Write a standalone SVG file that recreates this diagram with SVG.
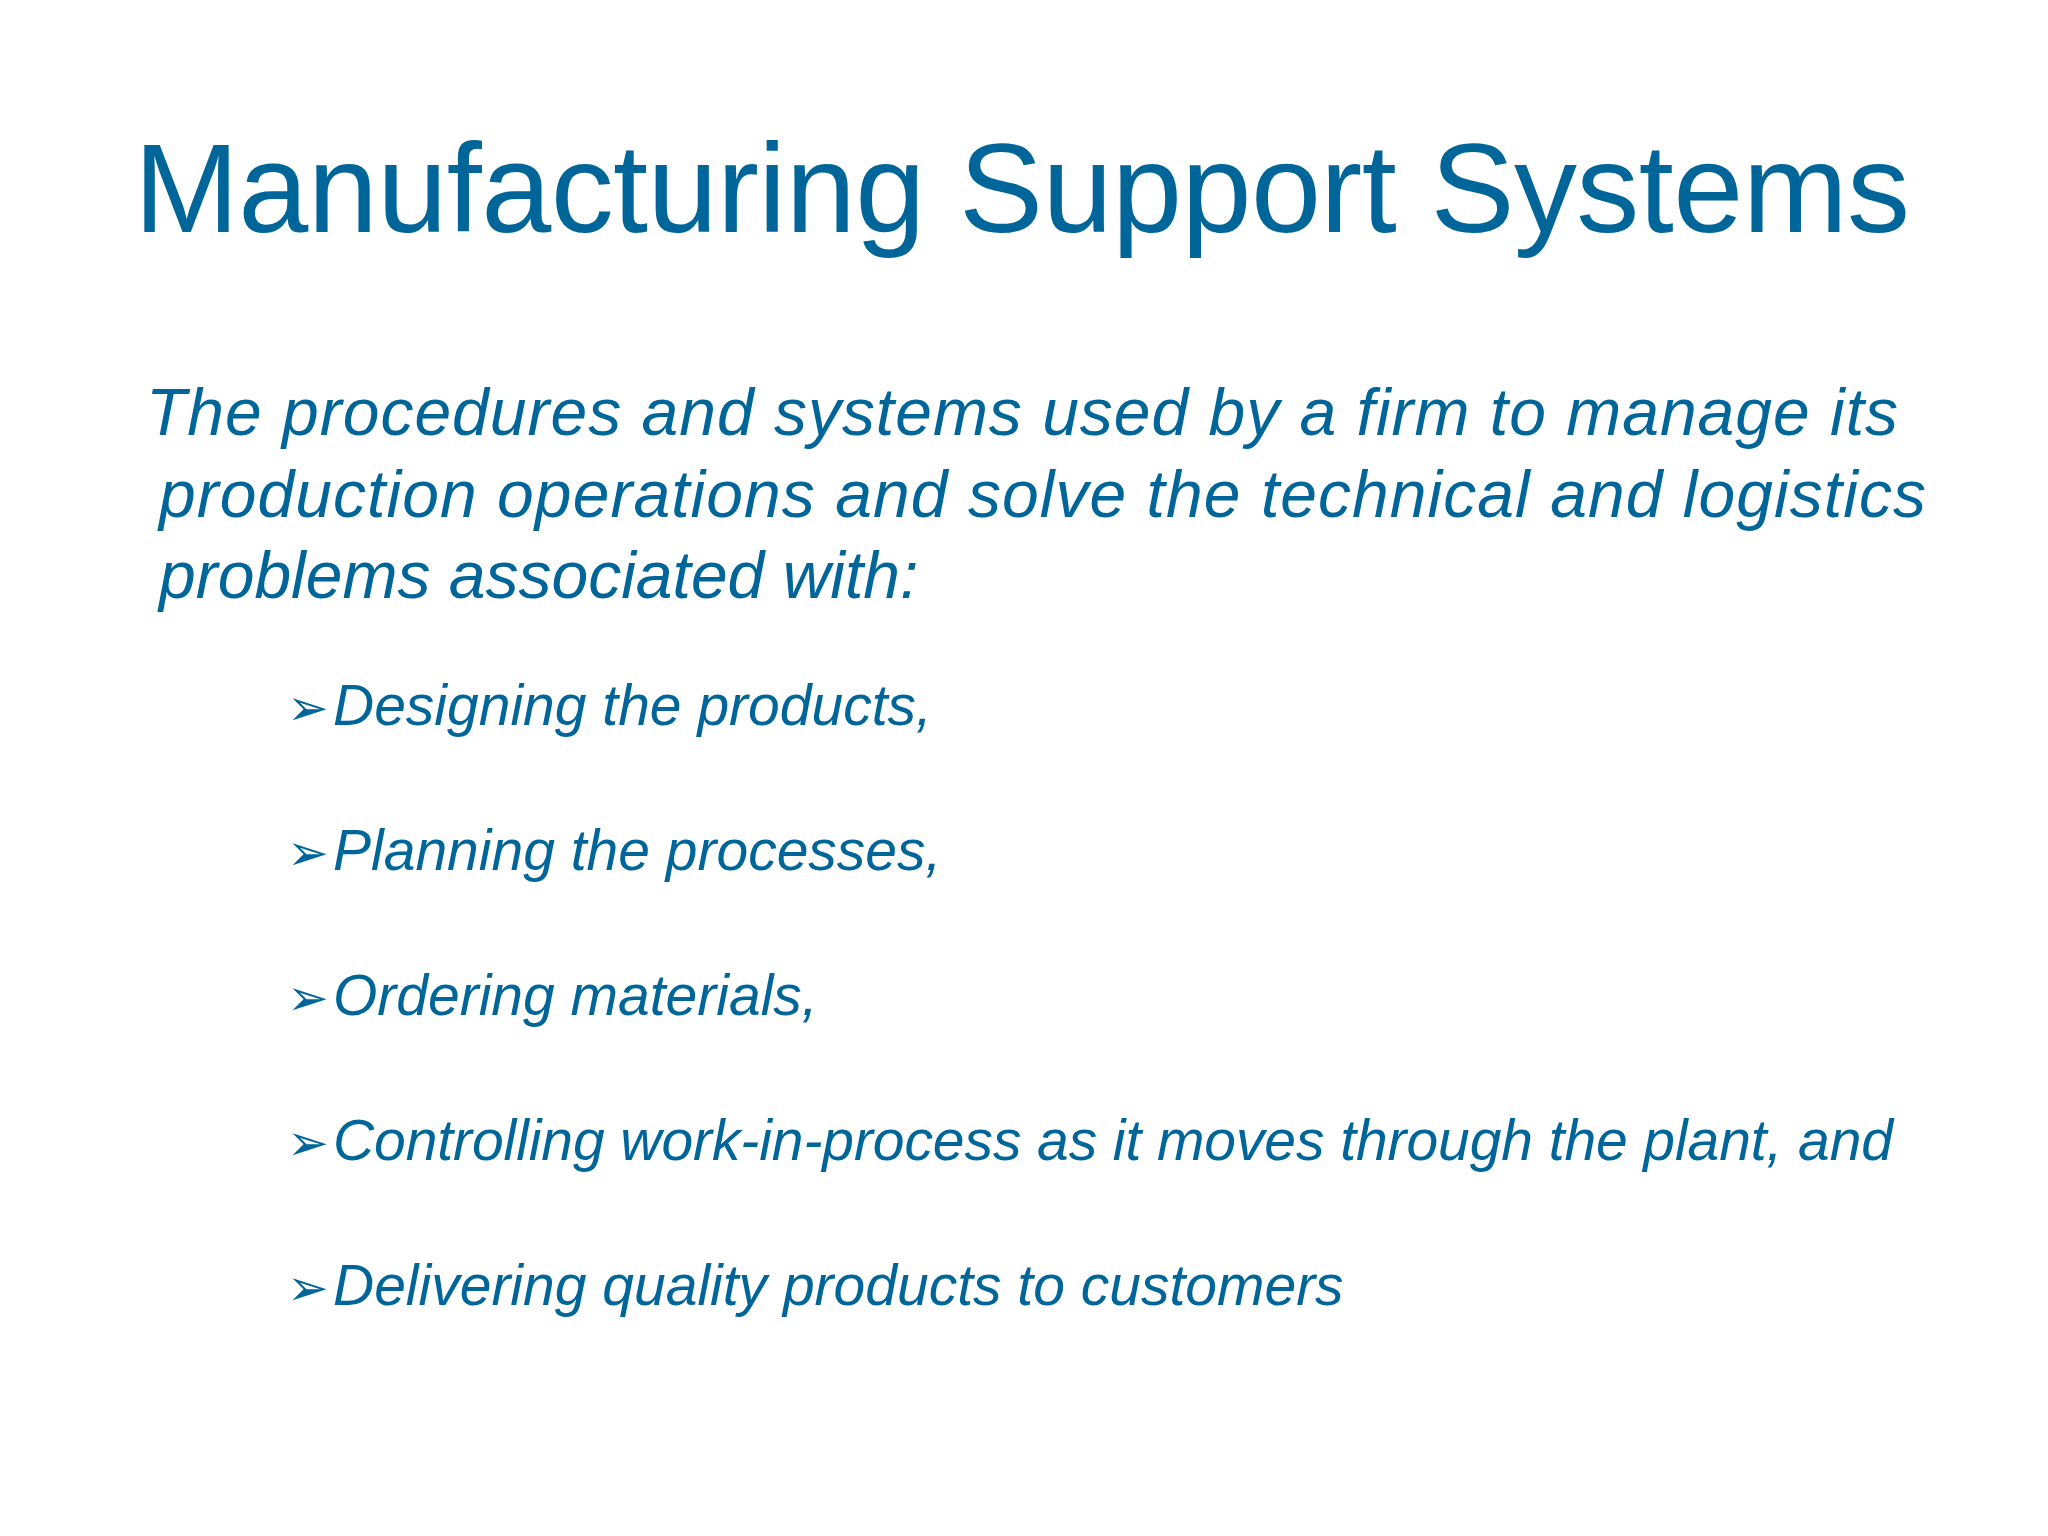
<svg xmlns="http://www.w3.org/2000/svg" width="2048" height="1536" viewBox="0 0 2048 1536">
<style>
text{fill:#006699;font-family:"Liberation Sans",Arial,sans-serif}
.t{font-size:126px}
.p{font-size:66px;font-style:italic}
.b{font-size:57px;font-style:italic}
.a{font-size:50px;font-family:"DejaVu Sans",sans-serif}
</style>
<rect width="2048" height="1536" fill="#fff"/>
<g id="title"><text class="t" x="1022" y="232" text-anchor="middle" textLength="1776">Manufacturing Support Systems</text></g>
<g id="intro">
<text class="p" x="146" y="435" textLength="1752">The procedures and systems used by a firm to manage its</text>
<text class="p" x="159" y="517" textLength="1767">production operations and solve the technical and logistics</text>
<text class="p" x="159" y="598">problems associated with:</text>
</g>
<g id="bullets">
<text class="a" x="287" y="725">➢</text><text class="b" x="333" y="725">Designing the products,</text>
<text class="a" x="287" y="870">➢</text><text class="b" x="333" y="870">Planning the processes,</text>
<text class="a" x="287" y="1015">➢</text><text class="b" x="333" y="1015">Ordering materials,</text>
<text class="a" x="287" y="1160">➢</text><text class="b" x="333" y="1160" textLength="1560">Controlling work-in-process as it moves through the plant, and</text>
<text class="a" x="287" y="1305">➢</text><text class="b" x="333" y="1305">Delivering quality products to customers</text>
</g>
</svg>
